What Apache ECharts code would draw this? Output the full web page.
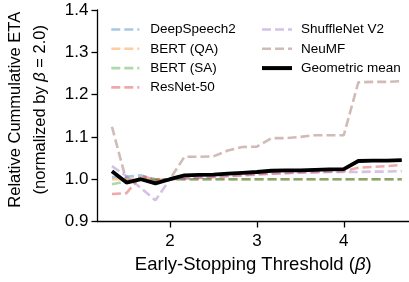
<!DOCTYPE html>
<html>
<head>
<meta charset="utf-8">
<script src="https://cdn.jsdelivr.net/npm/echarts@6/dist/echarts.min.js"></script>
<style>
  html, body { margin: 0; padding: 0; background: #fff; }
  #main { width: 409px; height: 282px; }
</style>
</head>
<body>
<div id="main"></div>
<script>
// early-stopping threshold values (x)
const betas = [1.333, 1.5, 1.667, 1.833, 2.0, 2.167, 2.333, 2.5, 2.667, 2.833, 3.0,
  3.167, 3.333, 3.5, 3.667, 3.833, 4.0, 4.167, 4.333, 4.5, 4.667];

const deepSpeech2 = [1.005, 1.006, 1.009, 1.0, 1.0, 1.0, 1.0, 1.0, 1.0, 1.0, 1.0,
  1.0, 1.0, 1.0, 1.0, 1.0, 1.0, 1.0, 1.0, 1.0, 1.0];
const bertQA = [1.0, 1.0, 1.002, 1.0, 1.0, 1.0, 1.0, 1.0, 1.0, 1.0, 1.0,
  1.0, 1.0, 1.0, 1.0, 1.0, 1.0, 1.0, 1.0, 1.0, 1.0];
const bertSA = [0.988, 0.995, 1.0, 0.999, 1.0, 1.0, 1.0, 1.0, 1.0, 1.0, 1.0,
  1.0, 1.0, 1.0, 1.0, 1.0, 1.0, 1.0, 1.0, 1.0, 1.0];
const resnet50 = [0.965, 0.967, 1.008, 0.998, 1.0, 1.002, 1.003, 1.005, 1.007, 1.009, 1.011,
  1.013, 1.014, 1.016, 1.017, 1.018, 1.019, 1.027, 1.029, 1.031, 1.034];
const shuffleNet = [1.031, 1.007, 0.979, 0.950, 1.0, 1.002, 1.004, 1.006, 1.008, 1.010, 1.012,
  1.014, 1.015, 1.016, 1.016, 1.017, 1.017, 1.017, 1.018, 1.018, 1.019];
const neuMF = [1.124, 0.995, 1.0, 0.996, 1.0, 1.053, 1.053, 1.054, 1.068, 1.076, 1.077,
  1.097, 1.097, 1.100, 1.104, 1.104, 1.104, 1.229, 1.230, 1.230, 1.232];
const geoMean = [1.019, 0.992, 1.0, 0.990, 1.0, 1.009, 1.010, 1.011, 1.013, 1.015, 1.017,
  1.020, 1.021, 1.021, 1.022, 1.023, 1.024, 1.043, 1.044, 1.044, 1.045];

const xTicks = [2, 3, 4];

const font = "Liberation Sans";

function pairs(ys) {
  return betas.map((b, i) => [b, ys[i]]);
}

function dashed(name, ys, color) {
  return {
    name: name,
    type: "line",
    data: pairs(ys),
    symbol: "none",
    lineStyle: { color: color, width: 2.6, type: [9, 4] },
    itemStyle: { color: color },
    silent: true,
  };
}

const chart = echarts.init(document.getElementById("main"));

// shared legend look: line sample only, no marker
const legendBase = {
  orient: "vertical",
  top: 22.5,
  padding: 0,
  itemHeight: 14,
  itemGap: 5.3,
  itemStyle: { opacity: 0 },
};

const options = {
  animation: false,
  grid: { left: 97.5, top: 10, right: 0, bottom: 60.5, outerBoundsMode: "none" },
  legend: [
    Object.assign({}, legendBase, {
      data: ["DeepSpeech2", "BERT (QA)", "BERT (SA)", "ResNet-50"],
      left: 110,
      itemWidth: 28,
      lineStyle: { width: 2.6 },
      textStyle: { fontFamily: font, fontSize: 13.5, color: "#000", padding: [0, 0, 0, 6] },
    }),
    Object.assign({}, legendBase, {
      data: [
        { name: "ShuffleNet V2", lineStyle: { width: 2.6 } },
        { name: "NeuMF", lineStyle: { width: 2.6 } },
        { name: "Geometric mean", lineStyle: { width: 4 } },
      ],
      left: 260,
      itemWidth: 30,
      textStyle: { fontFamily: font, fontSize: 13.5, color: "#000", padding: [0, 0, 0, 4] },
    }),
  ],
  xAxis: {
    type: "value",
    min: 1.1667,
    max: 4.75,
    name: "{n|Early-Stopping Threshold (}{i|β}{n|)}",
    nameLocation: "middle",
    nameGap: 34,
    nameTextStyle: {
      rich: {
        n: { fontFamily: font, fontSize: 18.5, color: "#000" },
        i: { fontFamily: font, fontSize: 18.5, color: "#000", fontStyle: "italic" },
      },
    },
    splitLine: { show: false },
    axisLine: { onZero: false, lineStyle: { color: "#000", width: 1.3 } },
    axisTick: { show: true, length: 6, customValues: xTicks, lineStyle: { color: "#000", width: 1.3 } },
    axisLabel: { customValues: xTicks, margin: 11, fontFamily: font, fontSize: 17, color: "#000" },
  },
  yAxis: {
    type: "value",
    min: 0.9,
    max: 1.4,
    interval: 0.1,
    name: "{n|Relative Cummulative ETA}\n{n|(normalized by }{i|β}{n| = 2.0)}",
    nameLocation: "middle",
    nameGap: 45,
    nameTextStyle: {
      padding: [0, 0, 0, 12],
      rich: {
        n: { fontFamily: font, fontSize: 16.5, color: "#000", lineHeight: 25 },
        i: { fontFamily: font, fontSize: 16.5, color: "#000", lineHeight: 25, fontStyle: "italic" },
      },
    },
    splitLine: { show: false },
    axisLine: { show: true, lineStyle: { color: "#000", width: 1.3 } },
    axisTick: { show: true, length: 6, lineStyle: { color: "#000", width: 1.3 } },
    axisLabel: {
      margin: 9,
      fontFamily: font,
      fontSize: 17,
      color: "#000",
      formatter: (v) => v.toFixed(1),
    },
  },
  series: [
    dashed("DeepSpeech2", deepSpeech2, "rgba(31,119,180,0.4)"),
    dashed("BERT (QA)", bertQA, "rgba(255,127,14,0.4)"),
    dashed("BERT (SA)", bertSA, "rgba(44,160,44,0.4)"),
    dashed("ResNet-50", resnet50, "rgba(214,39,40,0.4)"),
    dashed("ShuffleNet V2", shuffleNet, "rgba(148,103,189,0.4)"),
    dashed("NeuMF", neuMF, "rgba(140,86,75,0.4)"),
    {
      name: "Geometric mean",
      type: "line",
      data: pairs(geoMean),
      symbol: "none",
      lineStyle: { color: "#000", width: 3.8 },
      itemStyle: { color: "#000" },
      silent: true,
    },
  ],
};

chart.setOption(options);
</script>
</body>
</html>
